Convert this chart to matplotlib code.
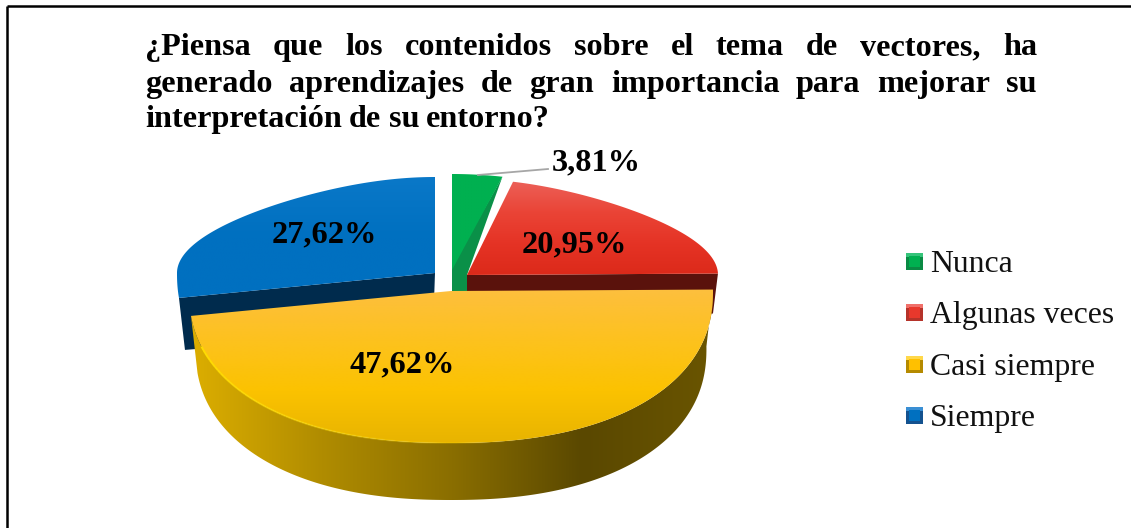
import numpy as np
import matplotlib
matplotlib.use('Agg')
import matplotlib.pyplot as plt
from matplotlib.colors import LinearSegmentedColormap
from matplotlib.patches import Polygon, Rectangle

categories = ['Nunca', 'Algunas veces', 'Casi siempre', 'Siempre']
values = [3.81, 20.95, 47.62, 27.62]
title_lines = ['¿Piensa que los contenidos sobre el tema de vectores, ha',
               'generado aprendizajes de gran importancia para mejorar su',
               'interpretación de su entorno?']

# look of each slice, pixel layout of the picture
centers = [(452, 270), (467, 275), (451, 291), (435, 273)]
radius_x = [275, 251, 262, 258]
top_grad = [['#00b050', '#00b050'],
            ['#ec6058', '#ea4436', '#e53325', '#dc2a1a'],
            ['#fdbf3e', '#fdc21e', '#fbc200', '#e8b400'],
            ['#0a78c8', '#0070c0', '#0070c0']]
face_col = ['#0a9048', '#5a120c', '#5c4a00', '#002b4d']
label_pos = [(596, 163), (574, 245), (402, 365), (324, 235)]
legend_y = [261, 312, 364, 415]
legend_main = ['#00b050', '#e8382c', '#ffc000', '#0070c0']
legend_dark = ['#0a8a44', '#b5332a', '#b58a00', '#14528f']
legend_light = ['#35c47a', '#f0706a', '#ffd84a', '#3a8fd4']
wall_grad = ['#dcae00', '#b08c00', '#8a6e00', '#5a4800', '#6a5500']
RY_BACK = 96
RY_FRONT = 152
DEPTH = 57
FONT = 'Liberation Serif'

fig = plt.figure(figsize=(11.31, 5.28), dpi=100)
ax = fig.add_axes([0, 0, 1, 1])
ax.set_axis_off()


def rim(a, cx, cy, rx, ry_front=RY_FRONT):
    # a = clockwise angle from the top, degrees
    a = np.radians(a)
    s = np.cos(a)
    c = np.sin(a)
    x = np.where(s > 0, c * (1 - 0.24 * s ** 2),
                 np.sign(c) * (1 - np.abs(s) ** 2.25) ** (1 / 2.25))
    y = np.where(s > 0, -s * RY_BACK, -s * ry_front)
    return np.column_stack([cx + rx * x, cy + y])


def grad_fill(pts, colors, z, horizontal=False):
    cmap = LinearSegmentedColormap.from_list('g', colors)
    x0, x1 = pts[:, 0].min(), pts[:, 0].max()
    y0, y1 = pts[:, 1].min(), pts[:, 1].max()
    ramp = np.linspace(0, 1, 256).reshape(-1, 1)
    if horizontal:
        ramp = ramp.T
    poly = Polygon(pts, closed=True, transform=ax.transData, fc='none', ec='none')
    ax.add_patch(poly)
    im = ax.imshow(ramp, cmap=cmap, extent=(x0, x1, y1, y0), origin='upper',
                   aspect='auto', interpolation='bilinear', zorder=z)
    im.set_clip_path(poly)


# slice angles come from the values
cum = np.cumsum([0] + values) * 3.6
tops = []
for i in range(4):
    cx, cy = centers[i]
    arc = rim(np.linspace(cum[i], cum[i + 1], 300), cx, cy, radius_x[i])
    tops.append(np.vstack([[cx, cy], arc]))

# cut faces behind the yellow slice
b = tops[3]
corner = b[1]
ax.fill([centers[3][0], corner[0], corner[0] + 6, centers[3][0] - 2],
        [centers[3][1], corner[1], corner[1] + 52, centers[3][1] + 57],
        color=face_col[3], lw=0, zorder=1)
r = tops[1]
corner = r[-1]
ax.fill([centers[1][0], corner[0], corner[0] - 5, centers[1][0]],
        [centers[1][1], corner[1], corner[1] + 40, centers[1][1] + 40],
        color=face_col[1], lw=0, zorder=1)
g = tops[0]
corner = g[-1]
ax.fill([corner[0], centers[0][0], centers[0][0], centers[0][0] + 15, centers[0][0] + 15],
        [corner[1], centers[0][1] - 4, centers[0][1] + 36, centers[0][1] + 36, centers[0][1] + 5],
        color=face_col[0], lw=0, zorder=1)

for i in [3, 1, 0]:
    grad_fill(tops[i], top_grad[i], 2)

# side wall of the yellow slice
cx, cy = centers[2]
a_wall = np.linspace(cum[2], cum[3], 400)
wall = np.vstack([rim(a_wall, cx, cy, radius_x[2]),
                  rim(a_wall[::-1], cx, cy + DEPTH, radius_x[2] * 0.975)])
grad_fill(wall, wall_grad, 3, horizontal=True)

grad_fill(tops[2], top_grad[2], 4)
# bright rim that fades out toward the front
front = rim(np.linspace(cum[3] - 12, 165, 60), cx, cy, radius_x[2])
for k in range(len(front) - 1):
    ax.plot(front[k:k + 2, 0], front[k:k + 2, 1], color='#ffdc00', lw=1.4,
            alpha=1 - k / (len(front) - 1), zorder=5, solid_capstyle='butt')

# data labels
ax.plot([478, 548], [175, 169], color='#a6a6a6', lw=1.3, zorder=6)
for i in range(4):
    txt = f'{values[i]:.2f}'.replace('.', ',') + '%'
    ax.text(label_pos[i][0], label_pos[i][1], txt, family=FONT, weight='bold',
            fontsize=23.3, ha='center', va='center', color='black', zorder=7)

# legend
for i in range(4):
    y = legend_y[i]
    ax.add_patch(Rectangle((906, y - 8.5), 17, 17, fc=legend_dark[i], ec='none'))
    ax.add_patch(Rectangle((906, y - 8.5), 17, 4, fc=legend_light[i], ec='none'))
    ax.add_patch(Rectangle((909, y - 5.5), 11, 11, fc=legend_main[i], ec='none'))
    ax.text(930, y, categories[i], family=FONT, fontsize=22.9, va='center_baseline',
            ha='left', color='#111111')

# title, first two lines justified word by word
renderer = fig.canvas.get_renderer()
baselines = [55, 92, 127]
for n, line in enumerate(title_lines):
    words = line.split(' ')
    objs = [ax.text(145, baselines[n], w, family=FONT, weight='bold', fontsize=23.2,
                    va='baseline', ha='left') for w in words]
    widths = [o.get_window_extent(renderer).width for o in objs]
    if n < 2:
        gap = (1037 - 145 - sum(widths)) / (len(words) - 1)
    else:
        gap = 7.2
    x = 145
    for o, w in zip(objs, widths):
        o.set_x(x)
        x += w + gap

# frame of the picture, only top and left show
ax.plot([7, 1131], [5.5, 5.5], color='black', lw=1.8, solid_capstyle='butt')
ax.plot([7, 7], [5.5, 528], color='black', lw=1.8, solid_capstyle='butt')

ax.set_xlim(0, 1131)
ax.set_ylim(528, 0)
fig.savefig('out.png', dpi=100)
